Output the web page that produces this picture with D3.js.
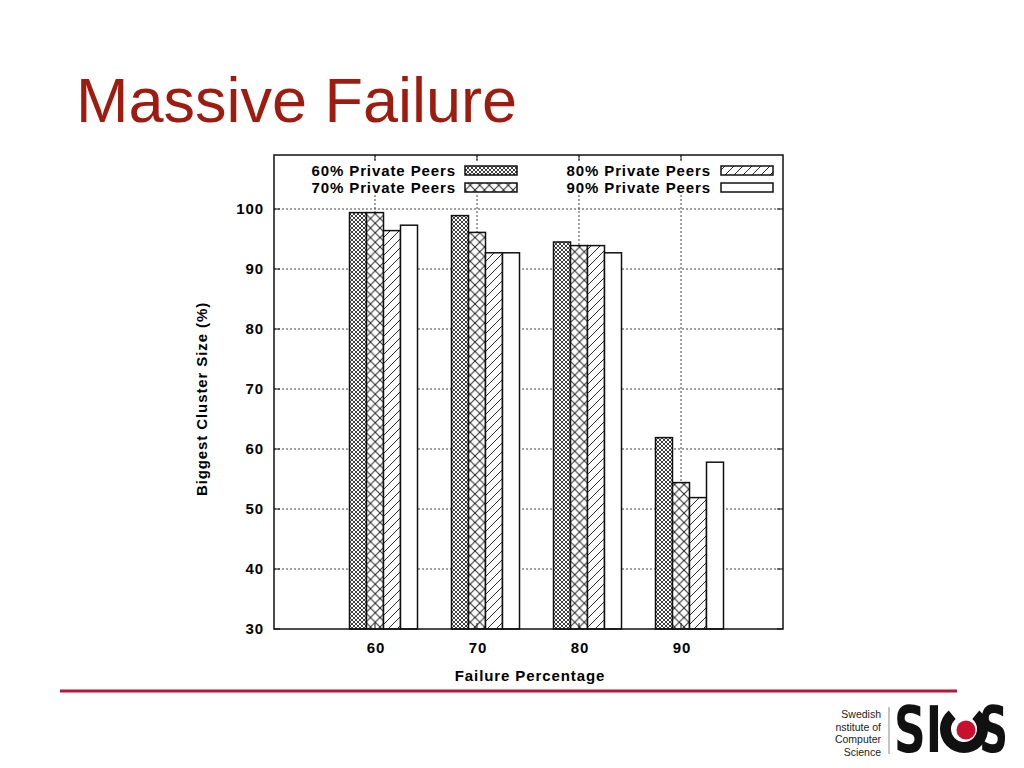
<!DOCTYPE html>
<html>
<head>
<meta charset="utf-8">
<script src="https://cdn.jsdelivr.net/npm/d3@7"></script>
<style>
  html, body { margin: 0; padding: 0; background: #fff; }
  svg { display: block; }
</style>
</head>
<body>
<svg id="chart" width="1024" height="768"></svg>
<script>
// ---- data ----
const categories = [60, 70, 80, 90];
const seriesNames = ["60% Private Peers", "70% Private Peers", "80% Private Peers", "90% Private Peers"];
const peers60 = [99.4, 98.9, 94.5, 61.9];
const peers70 = [99.4, 96.1, 93.9, 54.4];
const peers80 = [96.4, 92.7, 93.9, 51.9];
const peers90 = [97.3, 92.7, 92.7, 57.8];
const yTicks = [30, 40, 50, 60, 70, 80, 90, 100];
const titleText = "Massive Failure";
const xLabel = "Failure Percentage";
const yLabel = "Biggest Cluster Size (%)";
const logoLines = ["Swedish", "nstitute of", "Computer", "Science"];

const series = [peers60, peers70, peers80, peers90];

const svg = d3.select("#chart");
const defs = svg.append("defs");

// patterns
function mkPattern(id, size, lines, sw) {
  const p = defs.append("pattern").attr("id", id)
    .attr("patternUnits", "userSpaceOnUse")
    .attr("width", size).attr("height", size);
  p.append("rect").attr("width", size).attr("height", size).attr("fill", "#fff");
  lines.forEach(l => {
    p.append("line").attr("x1", l[0] * size).attr("y1", l[1] * size)
      .attr("x2", l[2] * size).attr("y2", l[3] * size)
      .attr("stroke", "#2a2a2a").attr("stroke-width", sw);
  });
}
const diagA = [[0, 1, 1, 0], [-0.5, 0.5, 0.5, -0.5], [0.5, 1.5, 1.5, 0.5]];
const diagB = [[0, 0, 1, 1], [-0.5, 0.5, 0.5, 1.5], [0.5, -0.5, 1.5, 0.5]];
mkPattern("pat0", 4, diagA.concat(diagB), 0.9);
mkPattern("pat1", 9.5, diagA.concat(diagB), 1);
mkPattern("pat2", 9, diagA, 1);
const fills = ["url(#pat0)", "url(#pat1)", "url(#pat2)", "#fff"];

// title
svg.append("text").attr("x", 76).attr("y", 122)
  .attr("font-family", "Liberation Sans, Arial, sans-serif")
  .attr("font-size", 63).attr("fill", "#9e1b0f").text(titleText);

// scales
const pLeft = 274, pRight = 783, pTop = 155, pBottom = 629;
const x = d3.scaleLinear().domain([50, 100]).range([273, 783]);
const y = d3.scaleLinear().domain([30, 109]).range([629, 155]);

const font = "Liberation Sans, Arial, sans-serif";
const fs = 15;
const ls = "0.9px";
const g = svg.append("g");

// horizontal grid
g.selectAll(".hgrid").data(yTicks.filter(t => t > 30)).join("line")
  .attr("x1", pLeft).attr("x2", pRight)
  .attr("y1", d => y(d)).attr("y2", d => y(d))
  .attr("stroke", "#444").attr("stroke-width", 1).attr("stroke-dasharray", "2,2");
// vertical grid
g.selectAll(".vgrid").data(categories).join("line")
  .attr("x1", d => x(d)).attr("x2", d => x(d))
  .attr("y1", pTop).attr("y2", pBottom)
  .attr("stroke", "#444").attr("stroke-width", 1).attr("stroke-dasharray", "2,2");

// legend background
g.append("rect").attr("x", 290).attr("y", 160).attr("width", 490).attr("height", 35).attr("fill", "#fff");

// bars
const barW = 5 / 3;
series.forEach((vals, si) => {
  g.selectAll(".bar" + si).data(vals).join("rect")
    .attr("x", (d, i) => x(categories[i] - 2.5 + si * barW))
    .attr("width", x(barW) - x(0))
    .attr("y", d => y(d))
    .attr("height", d => y(30) - y(d))
    .attr("fill", fills[si])
    .attr("stroke", "#111").attr("stroke-width", 1.5);
});

// ticks (inward on all sides)
const tickLen = 6;
yTicks.forEach(t => {
  g.append("line").attr("x1", pLeft).attr("x2", pLeft + tickLen).attr("y1", y(t)).attr("y2", y(t)).attr("stroke", "#111");
  g.append("line").attr("x1", pRight).attr("x2", pRight - tickLen).attr("y1", y(t)).attr("y2", y(t)).attr("stroke", "#111");
});
categories.forEach(c => {
  g.append("line").attr("x1", x(c)).attr("x2", x(c)).attr("y1", pTop).attr("y2", pTop + tickLen).attr("stroke", "#111");
  g.append("line").attr("x1", x(c)).attr("x2", x(c)).attr("y1", pBottom).attr("y2", pBottom - tickLen).attr("stroke", "#111");
});

// frame
g.append("rect").attr("x", pLeft).attr("y", pTop).attr("width", pRight - pLeft).attr("height", pBottom - pTop)
  .attr("fill", "none").attr("stroke", "#111").attr("stroke-width", 1.5);

// tick labels
g.selectAll(".ylab").data(yTicks).join("text")
  .attr("x", 264).attr("y", d => y(d) + 5)
  .attr("text-anchor", "end").attr("font-family", font).attr("font-weight", "bold")
  .attr("font-size", fs).attr("letter-spacing", ls).text(d => d);
g.selectAll(".xlab").data(categories).join("text")
  .attr("x", d => x(d) + 1).attr("y", 653)
  .attr("text-anchor", "middle").attr("font-family", font).attr("font-weight", "bold")
  .attr("font-size", fs).attr("letter-spacing", ls).text(d => d);

// axis titles
g.append("text").attr("x", 530).attr("y", 681).attr("text-anchor", "middle")
  .attr("font-family", font).attr("font-weight", "bold").attr("font-size", fs)
  .attr("letter-spacing", ls).text(xLabel);
g.append("text").attr("transform", "translate(207,399) rotate(-90)").attr("text-anchor", "middle")
  .attr("font-family", font).attr("font-weight", "bold").attr("font-size", fs)
  .attr("letter-spacing", ls).text(yLabel);

// legend
const legendPos = [
  { tx: 456, sx: 465, y: 166 },
  { tx: 456, sx: 465, y: 183 },
  { tx: 711, sx: 721, y: 166 },
  { tx: 711, sx: 721, y: 183 }
];
seriesNames.forEach((name, i) => {
  const p = legendPos[i];
  g.append("text").attr("x", p.tx).attr("y", p.y + 10).attr("text-anchor", "end")
    .attr("font-family", font).attr("font-weight", "bold").attr("font-size", fs)
    .attr("letter-spacing", ls).text(name);
  g.append("rect").attr("x", p.sx).attr("y", p.y).attr("width", 52).attr("height", 9)
    .attr("fill", fills[i]).attr("stroke", "#111").attr("stroke-width", 1.5);
});

// footer line
svg.append("line").attr("x1", 60).attr("x2", 957).attr("y1", 691).attr("y2", 691)
  .attr("stroke", "#b3173a").attr("stroke-width", 3);

// logo
const logo = svg.append("g");
logo.selectAll("text.l").data(logoLines).join("text")
  .attr("x", 881).attr("y", (d, i) => 718 + i * 12.5)
  .attr("text-anchor", "end").attr("font-family", font).attr("font-size", 10.5)
  .attr("fill", "#222").text(d => d);
logo.append("line").attr("x1", 889).attr("x2", 889).attr("y1", 707).attr("y2", 754)
  .attr("stroke", "#888").attr("stroke-width", 1);
const bigFont = "DejaVu Sans, Liberation Sans, sans-serif";
logo.append("text").attr("x", 894).attr("y", 752).attr("font-family", bigFont)
  .attr("font-weight", "bold").attr("font-size", 64)
  .attr("textLength", 48).attr("lengthAdjust", "spacingAndGlyphs").attr("fill", "#111").text("SI");
logo.append("text").attr("x", 979).attr("y", 752).attr("font-family", bigFont)
  .attr("font-weight", "bold").attr("font-size", 64)
  .attr("textLength", 29).attr("lengthAdjust", "spacingAndGlyphs").attr("fill", "#111").text("S");
// C as thick arc
const arc = d3.arc().innerRadius(13).outerRadius(24)
  .startAngle(Math.PI * 0.22).endAngle(Math.PI * 1.78);
logo.append("path").attr("d", arc()).attr("transform", "translate(964,729)").attr("fill", "#111");
logo.append("circle").attr("cx", 966).attr("cy", 730).attr("r", 9.5).attr("fill", "#c8102e");
</script>
</body>
</html>
